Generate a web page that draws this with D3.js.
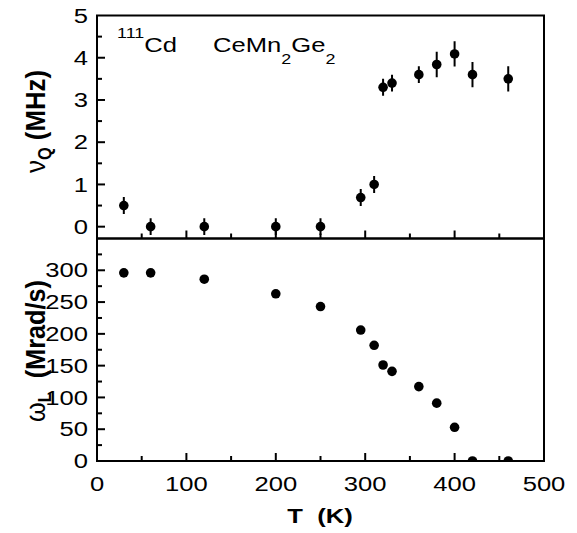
<!DOCTYPE html>
<html><head><meta charset="utf-8">
<script src="https://cdn.jsdelivr.net/npm/d3@7"></script>
<style>body{margin:0;background:#fff}svg{display:block}text{font-family:"Liberation Sans",Arial,sans-serif}</style>
</head><body><svg id="c" width="577" height="533"></svg>
<script>
const tempsQ = [30, 60, 120, 200, 250, 295, 310, 320, 330, 360, 380, 400, 420, 460];
const nuQ    = [0.5, 0, 0, 0, 0, 0.69, 1.0, 3.3, 3.4, 3.6, 3.84, 4.09, 3.6, 3.5];
const nuErr  = [0.2, 0.2, 0.2, 0.2, 0.2, 0.2, 0.2, 0.2, 0.2, 0.2, 0.3, 0.3, 0.3, 0.3];
const tempsL = [30, 60, 120, 200, 250, 295, 310, 320, 330, 360, 380, 400, 420, 460];
const omegaL = [296, 296, 286, 263, 243, 206, 182, 151, 141, 117, 91, 53, 0, 0];
const xTicks = [0, 100, 200, 300, 400, 500];
const yTicksTop = [0, 1, 2, 3, 4, 5];
const yTicksBot = [0, 50, 100, 150, 200, 250, 300];

const SX = 1.28; // horizontal stretch of the original figure's lettering
const svg = d3.select("#c");
const L = 97, R = 544;
const x = d3.scaleLinear().domain([0, 500]).range([L, R]);
const yT = d3.scaleLinear().domain([-0.28, 5]).range([238.5, 15.5]);
const yB = d3.scaleLinear().domain([0, 350]).range([461, 238.5]);

// data (drawn first, frames on top)
svg.append("clipPath").attr("id","ct").append("rect").attr("x",L).attr("y",15.5).attr("width",R-L).attr("height",223);
svg.append("clipPath").attr("id","cb").append("rect").attr("x",L).attr("y",238.5).attr("width",R-L).attr("height",222.5);
const gT = svg.append("g").attr("clip-path","url(#ct)");
tempsQ.forEach((t,i)=>{
  gT.append("line").attr("x1",x(t)).attr("x2",x(t)).attr("y1",yT(nuQ[i]-nuErr[i])).attr("y2",yT(nuQ[i]+nuErr[i]))
    .attr("stroke","#000").attr("stroke-width",2);
  gT.append("circle").attr("cx",x(t)).attr("cy",yT(nuQ[i])).attr("r",4.8).attr("fill","#000");
});
const gB = svg.append("g").attr("clip-path","url(#cb)");
tempsL.forEach((t,i)=>{
  gB.append("circle").attr("cx",x(t)).attr("cy",yB(omegaL[i])).attr("r",4.8).attr("fill","#000");
});

function frame(y0, y1){
  svg.append("rect").attr("x", L).attr("y", y0).attr("width", R-L).attr("height", y1-y0)
    .attr("fill","none").attr("stroke","#000").attr("stroke-width",2);
}
frame(15.5, 238.5);
frame(238.5, 461);

function xAxisTicks(yb){
  const g = svg.append("g");
  d3.range(50, 500, 50).forEach(v=>{
    const len = v % 100 === 0 ? 8 : 5;
    g.append("line").attr("x1", x(v)).attr("x2", x(v)).attr("y1", yb).attr("y2", yb-len)
      .attr("stroke","#000").attr("stroke-width",2);
  });
}
xAxisTicks(238.5);
xAxisTicks(461);
function yAxisTicks(scale, major, minorStep, lo, hi){
  const g = svg.append("g");
  d3.range(lo, hi + 1e-9, minorStep).forEach(v=>{
    const isMajor = major.some(m=>Math.abs(m-v)<1e-9);
    g.append("line").attr("x1", L).attr("x2", L + (isMajor?8:5)).attr("y1", scale(v)).attr("y2", scale(v))
      .attr("stroke","#000").attr("stroke-width",2);
  });
}
yAxisTicks(yT, yTicksTop, 0.5, 0, 4.5);
yAxisTicks(yB, yTicksBot, 25, 25, 325);

// tick labels
const FS = 20;
svg.append("g").selectAll("text").data(yTicksTop).join("text")
  .attr("transform", d=>`translate(88,${yT(d)}) scale(${SX},1)`).attr("dy","0.36em").attr("text-anchor","end")
  .attr("font-size", FS).text(d=>d);
svg.append("g").selectAll("text").data(yTicksBot).join("text")
  .attr("transform", d=>`translate(88,${yB(d)}) scale(${SX},1)`).attr("dy","0.36em").attr("text-anchor","end")
  .attr("font-size", FS).text(d=>d);
svg.append("g").selectAll("text").data(xTicks).join("text")
  .attr("transform", d=>`translate(${x(d)},491) scale(${SX},1)`).attr("text-anchor","middle")
  .attr("font-size", FS).text(d=>d);

// annotation
const ann = svg.append("text").attr("transform",`translate(117,52) scale(${SX},1)`).attr("font-size",20);
ann.append("tspan").attr("font-size",14).attr("dy",-14).text("111");
ann.append("tspan").attr("dy",14).text("Cd");
const ann2 = svg.append("text").attr("transform",`translate(213,52) scale(${SX},1)`).attr("font-size",20);
ann2.append("tspan").text("CeMn");
ann2.append("tspan").attr("font-size",14).attr("dy",12).text("2");
ann2.append("tspan").attr("dy",-12).text("Ge");
ann2.append("tspan").attr("font-size",14).attr("dy",12).text("2");

// axis titles (rotated)
function ylabel(cy, len, build){
  const t = svg.append("text").attr("text-anchor","middle").attr("font-size",22);
  build(t);
  const w = t.node().getComputedTextLength();
  t.attr("transform",`translate(45,${cy}) rotate(-90) scale(${len / w},${SX})`);
}
ylabel(121.5, 103, t=>{
  t.append("tspan").text("ν");
  t.append("tspan").attr("font-size",14).attr("font-weight","bold").attr("dy",5).text("Q");
  t.append("tspan").attr("font-weight","bold").attr("dy",-5).attr("xml:space","preserve").text(" (MHz)");
});
ylabel(351, 142, t=>{
  t.append("tspan").text("ω");
  t.append("tspan").attr("font-size",14).attr("font-weight","bold").attr("dy",5).text("L");
  t.append("tspan").attr("font-weight","bold").attr("dy",-5).attr("xml:space","preserve").text("  (Mrad/s)");
});
svg.append("text").attr("transform",`translate(320,523) scale(${SX},1)`).attr("text-anchor","middle").attr("font-size",20)
  .attr("font-weight","bold").attr("xml:space","preserve").text("T  (K)");
</script></body></html>
